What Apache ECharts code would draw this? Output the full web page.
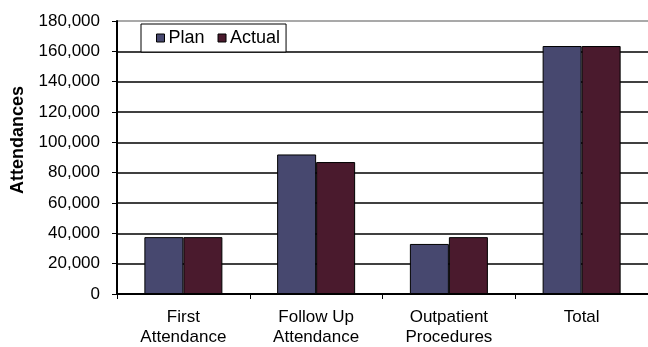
<!DOCTYPE html>
<html>
<head>
<meta charset="utf-8">
<script src="https://cdn.jsdelivr.net/npm/echarts@6/dist/echarts.min.js"></script>
<style>
  html, body { margin: 0; padding: 0; background: #fff; }
  #main { width: 648px; height: 347px; }
</style>
</head>
<body>
<div id="main"></div>
<script>
var categories = ['First\nAttendance', 'Follow Up\nAttendance', 'Outpatient\nProcedures', 'Total'];
var planValues = [37500, 92000, 33000, 163500];
var actualValues = [37500, 87000, 37500, 163500];

var myChart = echarts.init(document.getElementById('main'));

// top gridline is grey, the rest black
var gridColors = ['#000', '#000', '#000', '#000', '#000', '#000', '#000', '#000', '#000', '#8c8c8c'];

var option = {
    animation: false,
    textStyle: {
        fontFamily: 'Liberation Sans'
    },
    grid: {
        left: 117,
        right: 0,
        top: 21,
        bottom: 52
    },
    graphic: [{
        type: 'text',
        x: 18,
        y: 140,
        rotation: Math.PI / 2,
        style: {
            text: 'Attendances',
            font: 'bold 18px "Liberation Sans"',
            fill: '#000',
            align: 'center',
            verticalAlign: 'middle'
        }
    }],
    legend: {
        left: 141,
        top: 24,
        icon: 'rect',
        itemWidth: 8,
        itemHeight: 8,
        itemGap: 13,
        padding: [5, 6, 5, 15],
        borderColor: '#000',
        borderWidth: 1,
        backgroundColor: '#fff',
        textStyle: {
            fontSize: 18,
            color: '#000',
            padding: [0, 0, 0, -1]
        },
        itemStyle: {
            borderColor: '#000',
            borderWidth: 1
        },
        data: ['Plan', 'Actual']
    },
    xAxis: {
        type: 'category',
        data: categories,
        axisLine: { lineStyle: { color: '#000', width: 2 } },
        axisTick: { show: true, length: 5, lineStyle: { color: '#000' } },
        axisLabel: {
            color: '#000',
            fontSize: 17,
            lineHeight: 20,
            margin: 13
        }
    },
    yAxis: {
        type: 'value',
        min: 0,
        max: 180000,
        interval: 20000,
        axisLine: { show: true, lineStyle: { color: '#000', width: 2 } },
        axisTick: { show: true, length: 5, lineStyle: { color: '#000' } },
        axisLabel: {
            color: '#000',
            fontSize: 17,
            margin: 17,
            formatter: function (v) {
                return v.toLocaleString('en-US');
            }
        },
        splitLine: {
            show: true,
            lineStyle: { color: gridColors, width: 1.5 }
        }
    },
    series: [
        {
            name: 'Plan',
            type: 'bar',
            data: planValues,
            barWidth: 39,
            barGap: '0%',
            itemStyle: {
                color: '#47486f',
                borderColor: '#000',
                borderWidth: 1
            }
        },
        {
            name: 'Actual',
            type: 'bar',
            data: actualValues,
            barWidth: 39,
            barGap: '0%',
            itemStyle: {
                color: '#4a1a2d',
                borderColor: '#000',
                borderWidth: 1
            }
        }
    ]
};
myChart.setOption(option);
</script>
</body>
</html>
